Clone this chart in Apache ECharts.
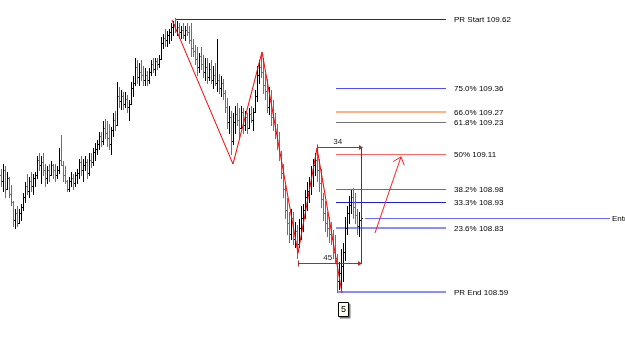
<!DOCTYPE html>
<html><head><meta charset="utf-8">
<script src="https://cdn.jsdelivr.net/npm/echarts@6/dist/echarts.min.js"></script>
<style>html,body{margin:0;padding:0;background:#fff}#c{width:625px;height:349px}</style>
</head><body><div id="c"></div>
<script>
// ---- OHLC bars (one per bar index) ----
const opens = [109.03,109.01,109.05,108.98,109.02,108.96,108.93,108.86,108.89,108.85,
108.89,108.91,108.95,108.99,108.97,109.01,108.99,109.02,109.03,109.09,
109.07,109.08,109.05,109.02,109.05,109.03,109.07,109.05,109.03,109.05,
109.09,109.07,109.03,109.01,108.98,109.01,109.02,109.00,109.03,109.04,
109.08,109.05,109.07,109.08,109.04,109.09,109.08,109.12,109.13,109.15,
109.18,109.16,109.21,109.19,109.17,109.15,109.20,109.24,109.22,109.33,
109.31,109.33,109.30,109.32,109.29,109.30,109.36,109.38,109.44,109.40,
109.42,109.41,109.39,109.41,109.39,109.42,109.45,109.43,109.46,109.45,
109.47,109.53,109.55,109.54,109.56,109.57,109.59,109.60,109.58,109.59,
109.57,109.58,109.56,109.58,109.57,109.54,109.51,109.50,109.47,109.44,
109.48,109.45,109.42,109.44,109.40,109.43,109.39,109.41,109.38,109.39,
109.36,109.38,109.34,109.29,109.23,109.25,109.16,109.23,109.26,109.24,
109.21,109.27,109.22,109.25,109.21,109.26,109.24,109.27,109.33,109.41,
109.44,109.42,109.37,109.35,109.29,109.31,109.25,109.23,109.19,109.15,
109.11,109.04,108.98,108.90,108.85,108.81,108.87,108.79,108.82,108.77,
108.83,108.87,108.90,108.95,108.97,109.00,109.04,109.07,109.09,109.05,
109.00,108.94,108.89,108.85,108.83,108.81,108.79,108.74,108.72,108.63,
108.66,108.69,108.74,108.83,108.89,108.92,108.95,108.91,108.88,108.84,108.86];
const highs = [109.05,109.07,109.06,109.04,109.02,108.99,108.93,108.90,108.91,108.90,
108.92,108.96,109.00,109.03,109.02,109.04,109.03,109.04,109.10,109.11,
109.10,109.11,109.07,109.06,109.07,109.08,109.07,109.07,109.06,109.13,
109.18,109.08,109.06,109.01,109.02,109.04,109.03,109.04,109.05,109.09,
109.10,109.09,109.10,109.09,109.11,109.11,109.13,109.15,109.16,109.19,
109.19,109.23,109.24,109.23,109.22,109.21,109.26,109.27,109.38,109.36,
109.35,109.34,109.34,109.33,109.31,109.38,109.40,109.47,109.46,109.45,
109.46,109.44,109.43,109.42,109.43,109.46,109.47,109.47,109.47,109.48,
109.55,109.56,109.58,109.57,109.58,109.60,109.61,109.62,109.61,109.60,
109.59,109.60,109.59,109.60,109.59,109.60,109.54,109.52,109.51,109.49,
109.51,109.48,109.47,109.47,109.45,109.46,109.44,109.45,109.54,109.41,
109.40,109.39,109.35,109.32,109.29,109.27,109.26,109.29,109.30,109.28,
109.29,109.28,109.27,109.26,109.28,109.29,109.28,109.35,109.44,109.46,
109.48,109.47,109.41,109.39,109.36,109.35,109.31,109.26,109.22,109.19,
109.12,109.07,108.99,108.94,108.89,108.90,108.89,108.85,108.84,108.86,
108.91,108.92,108.97,109.00,109.02,109.06,109.09,109.11,109.12,109.09,
109.05,108.96,108.93,108.89,108.87,108.85,108.82,108.80,108.73,108.70,
108.75,108.77,108.87,108.91,108.95,108.97,108.98,108.96,108.90,108.89,108.97];
const lows = [108.99,108.97,108.95,108.98,108.95,108.92,108.84,108.83,108.84,108.85,
108.86,108.90,108.93,108.96,108.95,108.97,108.96,108.99,109.02,109.05,
109.00,109.03,108.99,109.00,109.01,109.03,109.02,109.01,109.02,109.04,
109.07,109.01,109.00,108.97,108.97,108.99,108.98,108.99,109.00,109.02,
109.03,109.01,109.05,109.02,109.03,109.06,109.07,109.09,109.11,109.13,
109.14,109.15,109.17,109.14,109.13,109.11,109.18,109.20,109.22,109.29,
109.28,109.28,109.29,109.27,109.24,109.30,109.33,109.37,109.38,109.37,
109.39,109.37,109.37,109.37,109.38,109.41,109.42,109.41,109.43,109.44,
109.47,109.51,109.52,109.52,109.53,109.54,109.56,109.57,109.56,109.55,
109.55,109.55,109.54,109.56,109.53,109.48,109.48,109.45,109.41,109.42,
109.43,109.40,109.39,109.38,109.39,109.38,109.36,109.37,109.35,109.34,
109.33,109.32,109.27,109.21,109.19,109.11,109.15,109.19,109.22,109.17,
109.21,109.19,109.20,109.19,109.21,109.23,109.20,109.27,109.31,109.38,
109.40,109.34,109.32,109.27,109.26,109.22,109.20,109.17,109.13,109.09,
109.02,108.95,108.87,108.81,108.78,108.79,108.77,108.76,108.72,108.76,
108.79,108.82,108.87,108.90,108.93,108.96,108.99,109.03,109.01,108.97,
108.91,108.86,108.82,108.80,108.78,108.77,108.72,108.70,108.59,108.60,
108.60,108.63,108.71,108.81,108.85,108.89,108.87,108.85,108.81,108.80,108.85];
const closes = [109.01,109.05,108.98,109.02,108.96,108.93,108.86,108.89,108.85,108.89,
108.91,108.95,108.99,108.97,109.01,108.99,109.02,109.03,109.09,109.07,
109.08,109.05,109.02,109.05,109.03,109.07,109.05,109.03,109.05,109.09,
109.07,109.03,109.01,108.98,109.01,109.02,109.00,109.03,109.04,109.08,
109.05,109.07,109.08,109.04,109.09,109.08,109.12,109.13,109.15,109.18,
109.16,109.21,109.19,109.17,109.15,109.20,109.24,109.22,109.33,109.31,
109.33,109.30,109.32,109.29,109.30,109.36,109.38,109.44,109.40,109.42,
109.41,109.39,109.41,109.39,109.42,109.45,109.43,109.46,109.45,109.47,
109.53,109.55,109.54,109.56,109.57,109.59,109.60,109.58,109.59,109.57,
109.58,109.56,109.58,109.57,109.54,109.51,109.50,109.47,109.44,109.48,
109.45,109.42,109.44,109.40,109.43,109.39,109.41,109.38,109.39,109.36,
109.38,109.34,109.29,109.23,109.25,109.16,109.23,109.26,109.24,109.21,
109.27,109.22,109.25,109.21,109.26,109.24,109.27,109.33,109.41,109.44,
109.42,109.37,109.35,109.29,109.31,109.25,109.23,109.19,109.15,109.11,
109.04,108.98,108.90,108.85,108.81,108.87,108.79,108.82,108.77,108.83,
108.87,108.90,108.95,108.97,109.00,109.04,109.07,109.09,109.05,109.00,
108.94,108.89,108.85,108.83,108.81,108.79,108.74,108.72,108.63,108.66,
108.69,108.74,108.83,108.89,108.92,108.95,108.91,108.88,108.84,108.86,108.87];

// ---- ZigZag pivots (bar index, price) ----
const zigzagIdx = [85.5, 116, 130.5, 148.5, 158, 170.5];
const zigzagPrice = [109.617, 109.073, 109.496, 108.737, 109.133, 108.586];

// ---- Retracement levels ----
const levelLabels = ['PR Start','75.0%','66.0%','61.8%','50%','38.2%','33.3%','23.6%','PR End'];
const levelPrices = [109.62, 109.36, 109.27, 109.23, 109.11, 108.98, 108.93, 108.83, 108.59];
const levelStart  = [87, 167.5, 167.5, 167.5, 167.5, 167.5, 167.5, 167.5, 168];
const levelEndIdx = 222.5;
const labelIdx = 226.5;

// ---- Entry line ----
const entryLabel = 'Entry';
const entryPrice = 108.869;
const entryStart = 182, entryEnd = 304.5, entryLabelIdx = 305.5;

// ---- Bar-count measurements ----
const measureLabels = ['34', '45'];
const measureFrom = [158, 148.5];
const measureTo = [180.5, 180];
const measurePrice = [109.137, 108.70];
const verticalIdx = 180;

// ---- Projection arrow ----
const arrowIdx = [187, 200];
const arrowPrice = [108.813, 109.10];

// ---- Wave label ----
const waveLabel = '5';
const waveIdx = 171;
const wavePrice = 108.526;

// ---- styles ----
const levelColors = ['#1c1cd6','#4d4dff','#ffb286','#707070','#ff6464','#707070','#2020d0','#8c8cff','#8c8cff'];
const levelWidths = [1, 1, 2, 1, 1, 1, 1, 2, 2];
const FONT = '8px "Liberation Sans", Arial, sans-serif';

const barData = opens.map((o, i) => [i, o, closes[i], lows[i], highs[i]]);

function renderBar(params, api) {
  const x = api.value(0);
  const o = api.coord([x, api.value(1)]);
  const c = api.coord([x, api.value(2)]);
  const l = api.coord([x, api.value(3)]);
  const h = api.coord([x, api.value(4)]);
  const X = Math.round(h[0]);
  const px = X + 0.5;
  const color = api.value(2) >= api.value(1) ? '#000000' : '#6f6f6f';
  const yo = Math.round(o[1]) + 0.5, yc = Math.round(c[1]) + 0.5;
  return {type: 'group', children: [
    {type: 'line', shape: {x1: px, y1: Math.round(h[1]) - 1, x2: px, y2: Math.round(l[1]) + 1}, style: {stroke: color, lineWidth: 1}},
    {type: 'line', shape: {x1: X - 1, y1: yo, x2: X, y2: yo}, style: {stroke: color, lineWidth: 1}},
    {type: 'line', shape: {x1: X + 1, y1: yc, x2: X + 2, y2: yc}, style: {stroke: color, lineWidth: 1}}
  ]};
}

function renderLevel(params, api) {
  const i = api.value(2);
  const p = api.value(1);
  const s = api.coord([api.value(0), p]);
  const e = api.coord([levelEndIdx, p]);
  const t = api.coord([labelIdx, p]);
  const w = levelWidths[i];
  const y = (w % 2) ? Math.round(s[1]) + 0.5 : Math.round(s[1]);
  const children = [
    {type: 'line', shape: {x1: Math.round(s[0]), y1: y, x2: Math.round(e[0]), y2: y}, style: {stroke: levelColors[i], lineWidth: w}},
    {type: 'text', style: {text: levelLabels[i] + ' ' + p.toFixed(2), x: Math.round(t[0]), y: Math.round(s[1]) + 0.5, fill: '#000', font: FONT, align: 'left', verticalAlign: 'middle', textAlign: 'left', textVerticalAlign: 'middle'}}
  ];
  if (i === 0) {
    const xx = Math.round(s[0]) + 0.5;
    children.push({type: 'line', shape: {x1: xx, y1: y, x2: xx, y2: y + 4}, style: {stroke: levelColors[i], lineWidth: 1}});
  }
  return {type: 'group', children};
}

function renderEntry(params, api) {
  const s = api.coord([api.value(0), api.value(1)]);
  const e = api.coord([entryEnd, api.value(1)]);
  const t = api.coord([entryLabelIdx, api.value(1)]);
  const y = Math.round(s[1]) + 0.5;
  return {type: 'group', children: [
    {type: 'line', shape: {x1: Math.round(s[0]), y1: y, x2: Math.round(e[0]), y2: y}, style: {stroke: '#6a6aff', lineWidth: 1}},
    {type: 'text', style: {text: entryLabel, x: Math.round(t[0]), y: y, fill: '#000', font: FONT, align: 'left', verticalAlign: 'middle', textAlign: 'left', textVerticalAlign: 'middle'}}
  ]};
}

function renderMeasure(params, api) {
  const i = api.value(3);
  const p = api.value(2);
  const s = api.coord([api.value(0), p]);
  const e = api.coord([api.value(1), p]);
  const y = Math.round(s[1]) + 0.5;
  const x1 = Math.round(s[0]) + 0.5, x2 = Math.round(e[0]);
  const col = '#993333';
  return {type: 'group', children: [
    {type: 'line', shape: {x1: x1, y1: y, x2: x2, y2: y}, style: {stroke: col, lineWidth: 1}},
    {type: 'line', shape: {x1: x1, y1: y - 3, x2: x1, y2: y + 3}, style: {stroke: col, lineWidth: 1}},
    {type: 'polygon', shape: {points: [[x2 + 1, y], [x2 - 3, y - 2.5], [x2 - 3, y + 2.5]]}, style: {fill: col}},
    {type: 'text', style: {text: measureLabels[i], x: (x1 + x2) / 2 - 2, y: y - 6, fill: '#222', font: FONT, align: 'center', verticalAlign: 'middle', textAlign: 'center', textVerticalAlign: 'middle'}}
  ]};
}

function renderVertical(params, api) {
  const a = api.coord([verticalIdx, measurePrice[0]]);
  const b = api.coord([verticalIdx, measurePrice[1]]);
  const x = Math.round(a[0]) + 0.5;
  return {type: 'line', shape: {x1: x, y1: Math.round(a[1]), x2: x, y2: Math.round(b[1]) + 1}, style: {stroke: '#2a2aff', lineWidth: 1}};
}

function renderArrow(params, api) {
  const a = api.coord([arrowIdx[0], arrowPrice[0]]);
  const b = api.coord([arrowIdx[1], arrowPrice[1]]);
  const ang = Math.atan2(a[1] - b[1], a[0] - b[0]);
  const L = 9, spread = 0.7;
  const p1 = [b[0] + L * Math.cos(ang + spread), b[1] + L * Math.sin(ang + spread)];
  const p2 = [b[0] + L * Math.cos(ang - spread), b[1] + L * Math.sin(ang - spread)];
  const st = {stroke: '#ff2020', lineWidth: 1};
  return {type: 'group', children: [
    {type: 'line', shape: {x1: a[0], y1: a[1], x2: b[0], y2: b[1]}, style: st},
    {type: 'line', shape: {x1: b[0], y1: b[1], x2: p1[0], y2: p1[1]}, style: st},
    {type: 'line', shape: {x1: b[0], y1: b[1], x2: p2[0], y2: p2[1]}, style: st}
  ]};
}

function renderWave(params, api) {
  const c = api.coord([waveIdx, wavePrice]);
  const x = Math.round(c[0]) - 5 + 0.5, y = Math.round(c[1]) - 7 + 0.5;
  return {type: 'group', children: [
    {type: 'rect', shape: {x: x + 1.5, y: y + 1.5, width: 10, height: 14}, style: {fill: '#7a7a7a', stroke: '#7a7a7a', lineWidth: 1}},
    {type: 'rect', shape: {x: x, y: y, width: 10, height: 14}, style: {fill: '#fffff4', stroke: '#000', lineWidth: 1}},
    {type: 'text', style: {text: waveLabel, x: x + 5, y: y + 7.5, fill: '#000', font: '9px "Liberation Sans", Arial, sans-serif', align: 'center', verticalAlign: 'middle', textAlign: 'center', textVerticalAlign: 'middle'}}
  ]};
}

const chart = echarts.init(document.getElementById('c'), null, {renderer: 'canvas'});
chart.setOption({
  animation: false,
  backgroundColor: '#ffffff',
  grid: {left: 0, right: 0, top: 0, bottom: 0},
  xAxis: {type: 'value', min: -0.5, max: 312, show: false},
  yAxis: {type: 'value', min: 108.375, max: 109.692, show: false, scale: true},
  series: [
    {type: 'custom', name: 'levels', renderItem: renderLevel, data: levelPrices.map((p, i) => [levelStart[i], p, i]), z: 1, silent: true},
    {type: 'custom', name: 'entry', renderItem: renderEntry, data: [[entryStart, entryPrice]], z: 1, silent: true},
    {type: 'custom', name: 'bars', renderItem: renderBar, data: barData, encode: {x: 0, y: [1, 2, 3, 4]}, z: 2, silent: true},
    {type: 'line', name: 'zigzag', data: zigzagIdx.map((x, i) => [x, zigzagPrice[i]]), showSymbol: false, symbol: 'none', lineStyle: {color: '#ff0000', width: 1}, z: 3, silent: true},
    {type: 'custom', name: 'vertical', renderItem: renderVertical, data: [[verticalIdx, measurePrice[0]]], z: 4, silent: true},
    {type: 'custom', name: 'measure', renderItem: renderMeasure, data: measureLabels.map((l, i) => [measureFrom[i], measureTo[i], measurePrice[i], i]), z: 4, silent: true},
    {type: 'custom', name: 'arrow', renderItem: renderArrow, data: [[arrowIdx[0], arrowPrice[0]]], z: 4, silent: true},
    {type: 'custom', name: 'wave', renderItem: renderWave, data: [[waveIdx, wavePrice]], z: 5, silent: true}
  ]
});
</script>
</body></html>
